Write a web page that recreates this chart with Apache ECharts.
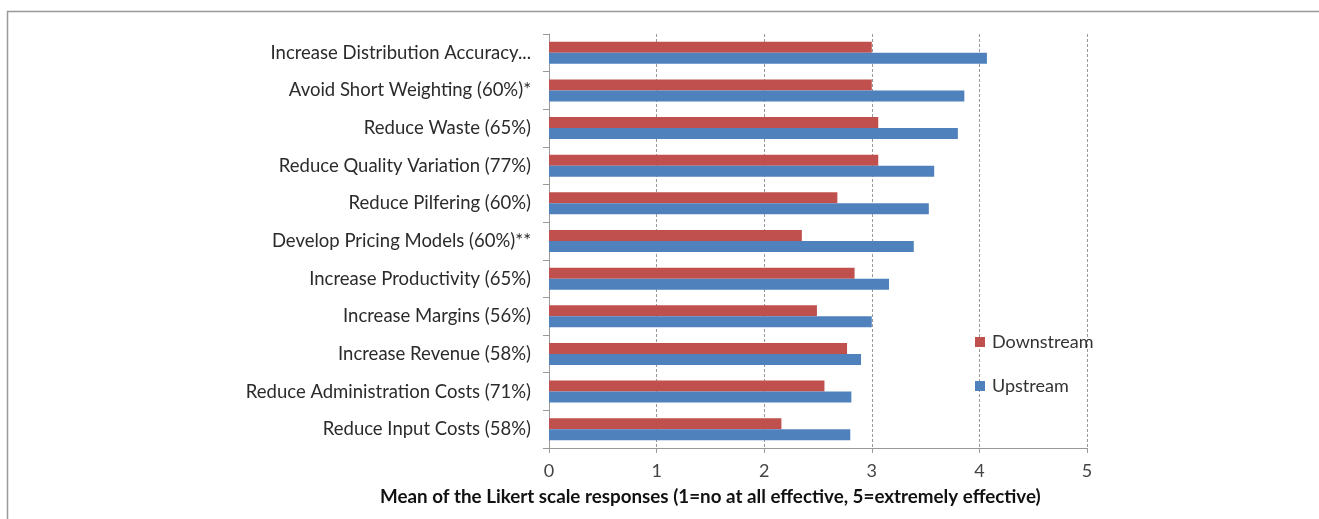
<!DOCTYPE html>
<html>
<head>
<meta charset="utf-8">
<script src="https://cdn.jsdelivr.net/npm/echarts@6/dist/echarts.min.js"></script>
<style>
  html, body { margin: 0; padding: 0; background: #fff; }
  #chart { width: 1319px; height: 519px; }
</style>
</head>
<body>
<div id="chart"></div>
<script>
const categories = [
  'Increase Distribution Accuracy...',
  'Avoid Short Weighting (60%)*',
  'Reduce Waste (65%)',
  'Reduce Quality Variation (77%)',
  'Reduce Pilfering (60%)',
  'Develop Pricing Models (60%)**',
  'Increase Productivity (65%)',
  'Increase Margins (56%)',
  'Increase Revenue (58%)',
  'Reduce Administration Costs (71%)',
  'Reduce Input Costs (58%)'
];
const downstream = [3.00, 3.00, 3.06, 3.06, 2.68, 2.35, 2.84, 2.49, 2.77, 2.56, 2.16];
const upstream   = [4.07, 3.86, 3.80, 3.58, 3.53, 3.39, 3.16, 3.00, 2.90, 2.81, 2.80];
const xTicks = [0, 1, 2, 3, 4, 5];
const axisTitle = 'Mean of the Likert scale responses (1=no at all effective, 5=extremely effective)';

const FONT = 'Lato';
const chart = echarts.init(document.getElementById('chart'), null, { renderer: 'canvas' });
chart.setOption({
  animation: false,
  backgroundColor: '#fff',
  textStyle: { fontFamily: FONT },
  grid: { left: 549, right: 232, top: 34, bottom: 71, containLabel: false },
  legend: {
    orient: 'vertical',
    left: 970,
    top: 328,
    itemWidth: 10,
    itemHeight: 10,
    itemGap: 26,
    icon: 'rect',
    data: ['Downstream', 'Upstream'],
    textStyle: { fontFamily: FONT, fontSize: 18, lineHeight: 18, color: '#333', padding: [0, 0, 0, 2] }
  },
  xAxis: {
    type: 'value',
    min: xTicks[0],
    max: xTicks[xTicks.length - 1],
    interval: 1,
    axisLine: { show: true, lineStyle: { color: '#999', width: 1 } },
    axisTick: { show: true, length: 5, lineStyle: { color: '#999' } },
    axisLabel: { fontFamily: FONT, fontSize: 18, color: '#444', margin: 14 },
    splitLine: { show: true, lineStyle: { color: '#999', type: [3, 2], width: 1 } }
  },
  yAxis: {
    type: 'category',
    data: categories,
    inverse: true,
    axisLine: { show: true, lineStyle: { color: '#999', width: 1 } },
    axisTick: { show: true, length: 6, lineStyle: { color: '#999' } },
    axisLabel: { fontFamily: FONT, fontSize: 18.5, color: '#2b2b2b', margin: 18 },
    splitLine: { show: false }
  },
  title: {
    text: axisTitle,
    left: 375,
    top: 482,
    textStyle: { fontFamily: FONT, fontSize: 18.8, fontWeight: 'bold', color: '#111' }
  },
  graphic: [{
    type: 'rect',
    shape: { x: 7.5, y: 11.5, width: 1400, height: 600 },
    style: { fill: 'none', stroke: '#999', lineWidth: 1.5 },
    silent: true
  }],
  series: [
    {
      name: 'Downstream',
      type: 'bar',
      data: downstream,
      barWidth: 11,
      barGap: '0%',
      itemStyle: { color: '#C0504D' }
    },
    {
      name: 'Upstream',
      type: 'bar',
      data: upstream,
      barWidth: 11,
      barGap: '0%',
      itemStyle: { color: '#4F81BD' }
    }
  ]
});
</script>
</body>
</html>
